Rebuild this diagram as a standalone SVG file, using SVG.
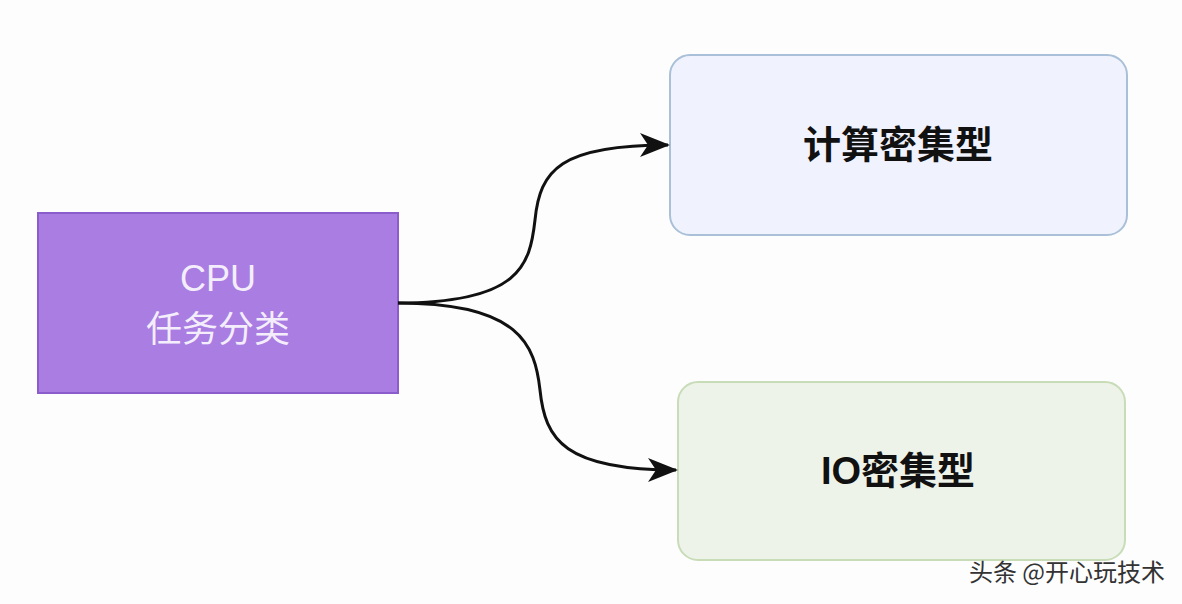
<svg xmlns="http://www.w3.org/2000/svg" width="1182" height="604" viewBox="0 0 1182 604">
<defs>
<style>
.t{font-family:"Liberation Sans","Noto Sans CJK SC",sans-serif;text-anchor:middle}
.c{fill:none;stroke:#111;stroke-width:3}
</style>
<marker id="ah" viewBox="0 0 10 10" refX="9" refY="5" markerWidth="10" markerHeight="10" markerUnits="userSpaceOnUse" orient="auto"><path d="M0,0 L10,5 L0,10 L3,5 z" fill="#111"/></marker>
<marker id="a" viewBox="0 0 30 24" refX="28" refY="12" markerWidth="30" markerHeight="24" markerUnits="userSpaceOnUse" orient="auto"><path d="M0,0 L30,12 L0,24 L8,12 z" fill="#111"/></marker>
</defs>
<rect width="1182" height="604" fill="#fdfdfd"/>
<g id="cpu">
<rect x="38" y="213" width="360" height="180" fill="#a97de2" stroke="#8a5ccc" stroke-width="2"/>
<text class="t" x="218" y="291" font-size="36" fill="#f4eefc">CPU</text>
<text class="t" x="218" y="342" font-size="36" fill="#f4eefc">任务分类</text>
</g>
<g id="compute">
<rect x="670" y="55" width="457" height="180" rx="20" fill="#f0f3fd" stroke="#a9c0d8" stroke-width="2"/>
<text class="t" x="898" y="158" font-size="38" font-weight="bold" fill="#111">计算密集型</text>
</g>
<g id="io">
<rect x="678" y="382" width="447" height="178" rx="20" fill="#eef3ea" stroke="#c8dcb8" stroke-width="2"/>
<text class="t" x="898" y="484" font-size="38" font-weight="bold" fill="#111">IO密集型</text>
</g>
<g id="connectors">
<path class="c" d="M398,303 C520,303 530,265 535,220 C540,170 560,145 668,145" marker-end="url(#a)"/>
<path class="c" d="M398,303 C520,303 535,345 540,390 C545,440 565,470 676,470" marker-end="url(#a)"/>
</g>
<text x="1165" y="581" font-size="24" fill="#333" text-anchor="end" font-family="Noto Sans CJK SC,sans-serif">头条 @开心玩技术</text>
</svg>
